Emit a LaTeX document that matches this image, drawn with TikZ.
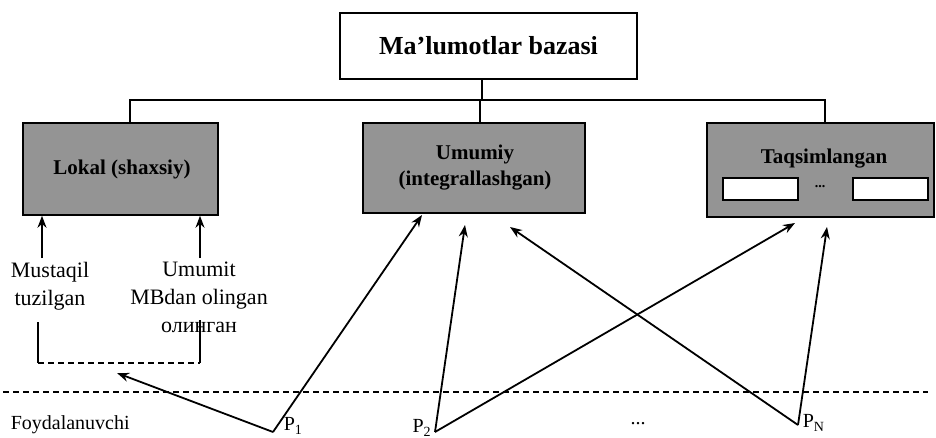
\documentclass[tikz,border=0pt]{standalone}
\usepackage{fontspec}
\setmainfont{Liberation Serif}
\usetikzlibrary{arrows.meta}
\begin{document}
\begin{tikzpicture}[x=1pt,y=-1pt,
  line width=1.6pt,
  topbox/.style={draw, fill=white, minimum width=297pt, minimum height=66pt,
    font=\fontsize{26}{30}\selectfont\bfseries},
  kindbox/.style={draw, fill=black!42, inner sep=0pt},
  kindtext/.style={font=\fontsize{21}{26}\selectfont\bfseries, align=center, inner sep=0pt},
  slot/.style={draw, line width=1.9pt, fill=white, minimum width=75pt, minimum height=22pt, inner sep=0pt},
  note/.style={font=\fontsize{22}{28}\selectfont, align=center, inner sep=0pt},
  user/.style={font=\fontsize{20}{22}\selectfont, inner sep=0pt},
  plabel/.style={font=\fontsize{20}{22}\selectfont, inner sep=0pt},
  bus/.style={line width=1.8pt},
  access/.style={line width=1.8pt, -{Stealth[length=12pt,width=9pt]}},
  split/.style={line width=1.7pt, dash pattern=on 6pt off 4pt}]

\useasboundingbox (0,0) rectangle (936,438);

% database root
\node[topbox] (db) at (488.5,46) {Ma’lumotlar bazasi};

% three kinds of databases
\node[kindbox, minimum width=195pt, minimum height=92pt] (lokal) at (120.5,169) {};
\node[kindtext] (lokaltxt) at (122,169) {Lokal (shaxsiy)};
\node[kindbox, minimum width=222pt, minimum height=90pt] (umumiy) at (474,168) {};
\node[kindtext] (umumiytxt) at (475,168) {Umumiy\\(integrallashgan)};
\node[kindbox, minimum width=227pt, minimum height=94pt] (taqsim) at (820.5,170) {};
\node[kindtext] (taqsimtxt) at (824,159) {Taqsimlangan};
\node[slot] (slotA) at (760.5,189) {};
\node[slot] (slotB) at (890.5,189) {};
\node[font=\fontsize{14}{14}\selectfont\bfseries, inner sep=0pt] (slotdots) at (820,187) {...};

% tree connectors
\coordinate (busL) at (130,100);
\coordinate (busM) at (480,100);
\coordinate (busR) at (825,100);
\coordinate (root) at (482,100);
\draw[bus] (db.south -| root) -- (root);
\draw[bus] (lokal.north -| busL) -- (busL) -- (busR) -- (taqsim.north -| busR);
\draw[bus] (busM) -- (umumiy.north -| busM);

% sources of a local database
\node[note] (mustaqil) at (50,286) {Mustaqil\\tuzilgan};
\node[note] (umumit) at (199,297) {Umumit\\MBdan olingan\\олинган};
\coordinate (srcA) at (42,258);
\coordinate (srcB) at (200,258);
\draw[access] (srcA) -- (lokal.south -| srcA);
\draw[access] (srcB) -- (lokal.south -| srcB);

% bracket joining the two sources
\coordinate (brA) at (38,322);
\coordinate (brB) at (38,363);
\coordinate (brC) at (200,363);
\coordinate (brD) at (200,320);
\draw (brA) -- (brB);
\draw[split] (brB) -- (brC);
\draw (brC) -- (brD);
\coordinate (brTip) at (117,373);

% boundary of the user level
\coordinate (lineL) at (3,392);
\coordinate (lineR) at (928,392);
\draw[split] (lineL) -- (lineR);

% users
\node[user, anchor=west] (foyd) at (10,425) {Foydalanuvchi};
\coordinate (p1) at (273,432);
\coordinate (p2) at (435,432);
\coordinate (pn) at (798,425);
\node[plabel, anchor=west] (p1lbl) at (283,426) {P\textsubscript{1}};
\node[plabel, anchor=east] (p2lbl) at (432,428) {P\textsubscript{2}};
\node[plabel, anchor=west] (pnlbl) at (802,423) {P\textsubscript{N}};
\node[user] (udots) at (638,424) {...};

% access paths of the users
\coordinate (u1) at (422,215);
\coordinate (u2) at (465,225);
\coordinate (u3) at (510,227);
\coordinate (t1) at (795,223);
\coordinate (t2) at (827,227);
\draw[access] (p1) -- (brTip);
\draw[access] (p1) -- (u1);
\draw[access] (p2) -- (u2);
\draw[access] (p2) -- (t1);
\draw[access] (pn) -- (u3);
\draw[access] (pn) -- (t2);
\end{tikzpicture}
\end{document}
